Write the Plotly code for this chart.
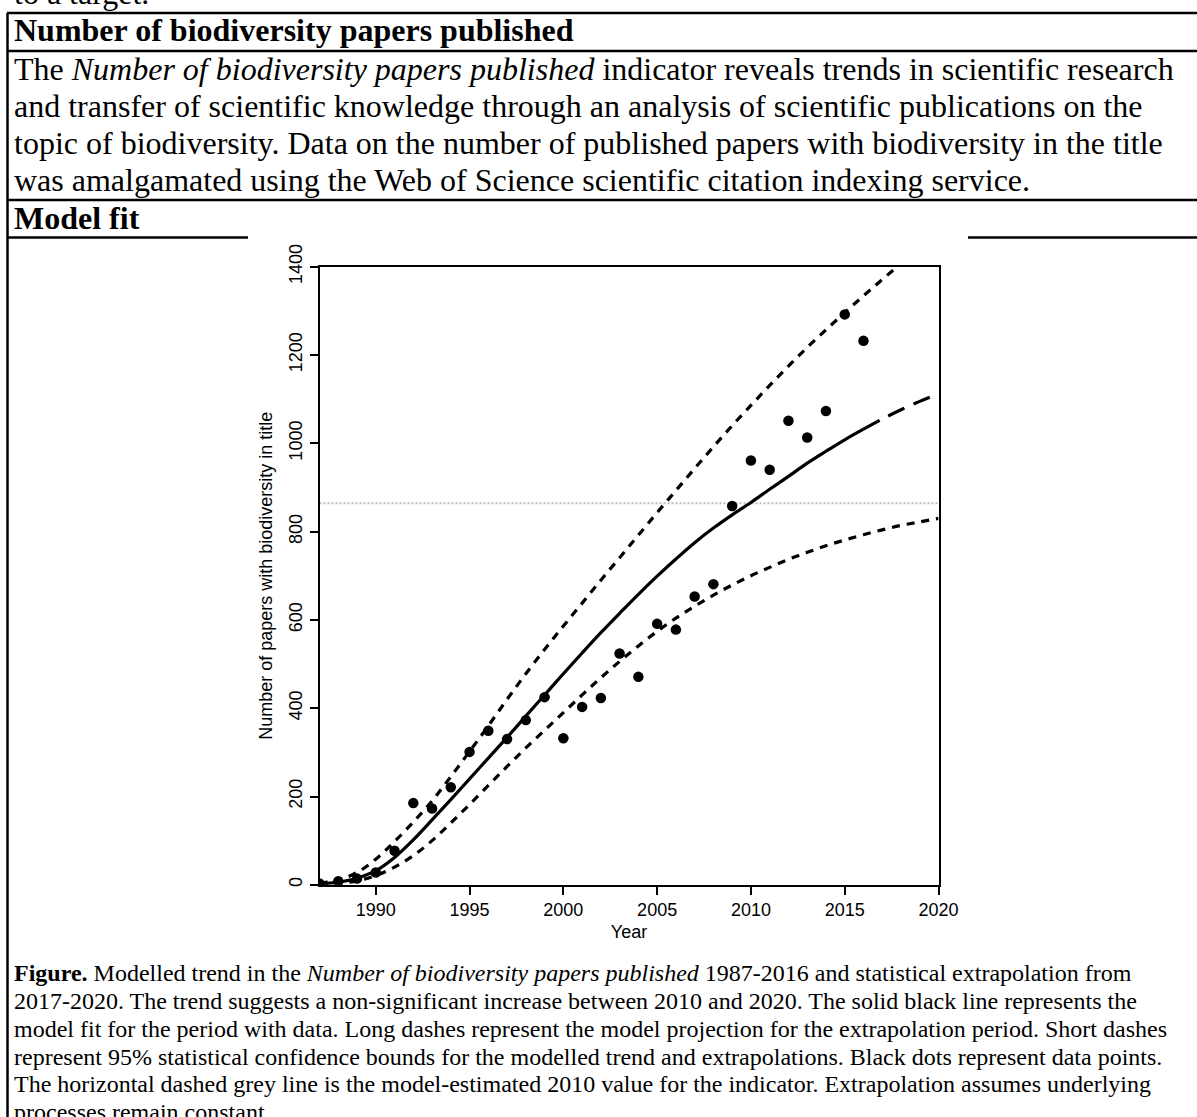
import plotly.graph_objects as go

W, H = 1197, 1117

# ---------------- data ----------------
years = list(range(1987, 2017))
papers = [3, 8, 14, 28, 77, 185, 173, 221, 301, 349, 330, 373, 425, 332, 403,
          423, 524, 471, 591, 578, 653, 681, 858, 961, 940, 1051, 1013, 1073, 1292, 1232]

fit_years = list(range(1987, 2017))
model_fit = [2, 6, 15, 32, 62, 102, 147, 193, 240, 287, 334, 382, 430, 478, 525,
             571, 615, 658, 699, 738, 775, 808, 838, 866, 896, 925, 955, 982, 1008, 1032]

proj_years = [2016, 2017, 2018, 2019, 2020]
projection = [1032, 1055, 1076, 1095, 1112]

ci_years = list(range(1987, 2021))
upper_ci = [4, 11, 28, 58, 98, 142, 190, 245, 302, 360, 420, 478, 533, 586, 638, 690,
            741, 792, 843, 893, 943, 992, 1040, 1086, 1131, 1175, 1217, 1257, 1296,
            1334, 1371, 1407, 1442, 1476]
lower_ci = [1, 3, 9, 21, 40, 66, 100, 140, 182, 225, 268, 310, 350, 390, 430, 469,
            506, 541, 574, 604, 631, 656, 679, 700, 719, 737, 753, 768, 781, 793,
            804, 814, 822, 830]

ref_2010 = 864
ref_years = [1987, 2020]

x_ticks = [1990, 1995, 2000, 2005, 2010, 2015, 2020]
y_ticks = [0, 200, 400, 600, 800, 1000, 1200, 1400]

# ---------------- helpers ----------------
def px(x):
    return x / W

def py(y):
    return 1 - y / H

SERIF = "Liberation Serif, Times New Roman, serif"
SANS = "Liberation Sans, Arial, sans-serif"

fig = go.Figure()

fig.add_trace(go.Scatter(x=ref_years, y=[ref_2010, ref_2010], mode="lines",
                         line=dict(color="#bdbdbd", width=2, dash="2px,2px"),
                         hoverinfo="skip"))
fig.add_trace(go.Scatter(x=ci_years, y=upper_ci, mode="lines", line_shape="spline",
                         line=dict(color="black", width=3.2, dash="8px,7px")))
fig.add_trace(go.Scatter(x=ci_years, y=lower_ci, mode="lines", line_shape="spline",
                         line=dict(color="black", width=3.2, dash="8px,7px")))
fig.add_trace(go.Scatter(x=proj_years, y=projection, mode="lines", line_shape="spline",
                         line=dict(color="black", width=3.2, dash="18px,10px")))
fig.add_trace(go.Scatter(x=fit_years, y=model_fit, mode="lines", line_shape="spline",
                         line=dict(color="black", width=3.2)))
fig.add_trace(go.Scatter(x=years, y=papers, mode="markers",
                         marker=dict(color="black", size=10.5)))

# ---------------- table lines ----------------
LW = 2.5
segments = [
    (7, 13, W, 13),
    (7, 51, W, 51),
    (7, 200, W, 200),
    (7, 237.5, 248, 237.5),
    (968, 237.5, W, 237.5),
    (7.5, 13, 7.5, H),
]
shapes = []
for x0, y0, x1, y1 in segments:
    shapes.append(dict(type="line", xref="paper", yref="paper",
                       x0=px(x0), y0=py(y0), x1=px(x1), y1=py(y1),
                       line=dict(color="black", width=LW)))

# ---------------- text ----------------
annotations = []

def text_line(txt, x, baseline, size, family=SERIF):
    annotations.append(dict(text=txt, xref="paper", yref="paper",
                            x=px(x), y=py(baseline - 0.3375 * size),
                            xanchor="left", yanchor="middle", showarrow=False,
                            font=dict(family=family, size=size, color="black")))

text_line("to a target.", 12, 4, 32)
text_line("<b>Number of biodiversity papers published</b>", 12, 41, 32)

para = [
    "The <i>Number of biodiversity papers published</i> indicator reveals trends in scientific research",
    "and transfer of scientific knowledge through an analysis of scientific publications on the",
    "topic of biodiversity. Data on the number of published papers with biodiversity in the title",
    "was amalgamated using the Web of Science scientific citation indexing service.",
]
for i, t in enumerate(para):
    text_line(t, 12, 80 + 37 * i, 32)

text_line("<b>Model fit</b>", 12, 229, 32)

caption = [
    "<b>Figure.</b> Modelled trend in the <i>Number of biodiversity papers published</i> 1987-2016 and statistical extrapolation from",
    "2017-2020. The trend suggests a non-significant increase between 2010 and 2020. The solid black line represents the",
    "model fit for the period with data. Long dashes represent the model projection for the extrapolation period. Short dashes",
    "represent 95% statistical confidence bounds for the modelled trend and extrapolations. Black dots represent data points.",
    "The horizontal dashed grey line is the model-estimated 2010 value for the indicator. Extrapolation assumes underlying",
    "processes remain constant.",
]
for i, t in enumerate(caption):
    text_line(t, 12, 981.5 + 27.7 * i, 24)

# ---------------- layout ----------------
X0, X1 = 319.5, 938.5
Y_TOP, Y_BOT = 266.7, 884.8

fig.update_layout(
    width=W, height=H,
    margin=dict(l=0, r=0, t=0, b=0, autoexpand=False),
    paper_bgcolor="white", plot_bgcolor="white",
    showlegend=False,
    shapes=shapes,
    annotations=annotations,
    xaxis=dict(domain=[px(X0), px(X1)], range=[1987, 2020],
               tickmode="array", tickvals=x_ticks, ticktext=[str(v) for v in x_ticks],
               ticks="outside", ticklen=8, tickwidth=1.5, tickcolor="black",
               showline=True, linewidth=2, linecolor="black", mirror=True,
               showgrid=False, zeroline=False,
               tickfont=dict(family=SANS, size=18, color="black"),
               title=dict(text="Year", font=dict(family=SANS, size=18, color="black"),
                          standoff=6)),
    yaxis=dict(domain=[py(Y_BOT), py(Y_TOP)], range=[0, 1400],
               tickmode="array", tickvals=y_ticks, ticktext=[str(v) for v in y_ticks],
               ticks="outside", ticklen=8, tickwidth=1.5, tickcolor="black",
               tickangle=-90,
               showline=True, linewidth=2, linecolor="black", mirror=True,
               showgrid=False, zeroline=False,
               tickfont=dict(family=SANS, size=18, color="black"),
               title=dict(text="Number of papers with biodiversity in title",
                          font=dict(family=SANS, size=18, color="black"),
                          standoff=9)),
)

fig.write_html("out.html", config={"displayModeBar": False},
               post_script="document.body.style.margin='0';document.body.style.overflow='hidden';")
